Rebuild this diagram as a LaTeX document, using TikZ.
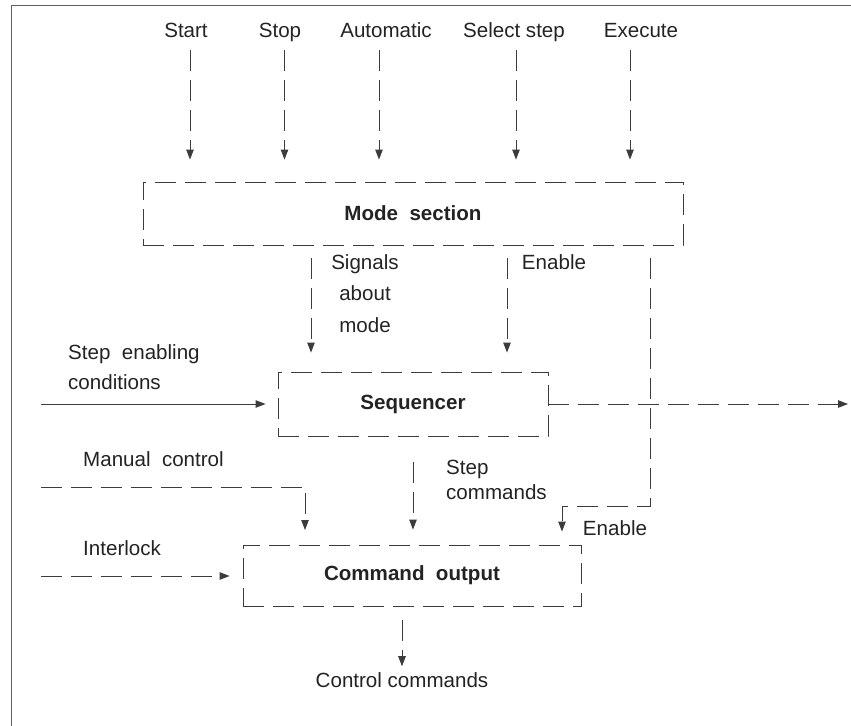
\documentclass[tikz,border=0pt]{standalone}
\usepackage{fontspec}
\setmainfont{Liberation Sans}
\usepackage{tikz}
\usetikzlibrary{arrows.meta, positioning, calc}
\definecolor{mydark}{RGB}{35,35,35}
\definecolor{myline}{RGB}{60,60,60}
\definecolor{myframe}{RGB}{95,95,95}
\tikzset{
  dashbox/.style={rectangle, draw=myline, dash pattern=on 0.42cm off 0.18cm,
    line width=0.5pt, font=\fontsize{11.7}{14}\selectfont\bfseries, inner sep=0pt},
  toplabel/.style={anchor=base},
  arrow/.style={-{Triangle[length=2mm, width=1.5mm]}, line width=0.5pt, color=myline},
  dasharrow/.style={arrow, dash pattern=on 0.42cm off 0.18cm},
  frame/.style={line width=1.1pt, color=myframe}
}

\begin{document}
\begin{tikzpicture}[font=\fontsize{11.7}{14}\selectfont, text=mydark]
  \useasboundingbox (0,0) rectangle (17.02,-14.52);
  \draw[frame] (0.23,-14.52) -- (0.23,-0.11) -- (17.02,-0.11);

  % Blocks
  \node[dashbox, minimum width=10.8cm, minimum height=1.26cm] (mode) at (8.26,-4.27) {Mode~ section};
  \node[dashbox, minimum width=5.4cm, minimum height=1.28cm] (seq) at (8.26,-8.08) {Sequencer};
  \node[dashbox, minimum width=6.76cm, minimum height=1.22cm] (cmd) at (8.24,-11.51) {Command~ output};

  % Operator inputs
  \node[toplabel] (start) at (3.72,-0.74) {Start};
  \node[toplabel] (stop) at (5.6,-0.74) {Stop};
  \node[toplabel] (auto) at (7.72,-0.74) {Automatic};
  \node[toplabel] (select) at (10.28,-0.74) {Select step};
  \node[toplabel] (exec) at (12.82,-0.74) {Execute};
  \coordinate (astart) at (3.8,-1.0);
  \coordinate (astop) at (5.69,-1.0);
  \coordinate (aauto) at (7.58,-1.0);
  \coordinate (aselect) at (10.32,-1.0);
  \coordinate (aexec) at (12.6,-1.0);
  \draw[dasharrow, shorten >=0.44cm] (astart) -- (astart |- mode.north);
  \draw[dasharrow, shorten >=0.44cm] (astop) -- (astop |- mode.north);
  \draw[dasharrow, shorten >=0.44cm] (aauto) -- (aauto |- mode.north);
  \draw[dasharrow, shorten >=0.44cm] (aselect) -- (aselect |- mode.north);
  \draw[dasharrow, shorten >=0.44cm] (aexec) -- (aexec |- mode.north);

  % Mode section to sequencer
  \coordinate (sig) at (6.22,-5.16);
  \draw[dasharrow, shorten >=0.38cm] (sig) -- (sig |- seq.north);
  \node[align=center, font=\fontsize{11.7}{18}\selectfont] (sigtxt) at (7.3,-5.87) {Signals\\about\\mode};
  \coordinate (en) at (10.14,-5.16);
  \draw[dasharrow, shorten >=0.38cm] (en) -- (en |- seq.north);
  \node (entxt) at (11.08,-5.24) {Enable};

  % Enable to command output
  \coordinate (enlong) at (13.0,-5.16);
  \coordinate (enturn) at (11.24,-10.12);
  \draw[dasharrow, shorten >=0.26cm] (enlong) |- (enturn) -- (enturn |- cmd.north);
  \node (enbot) at (12.3,-10.56) {Enable};

  % Sequencer in and out
  \node[align=left, anchor=west, font=\fontsize{11.7}{17}\selectfont] (cond) at (1.24,-7.34) {Step~ enabling\\conditions};
  \coordinate (condin) at (0.82,-8.08);
  \draw[arrow, shorten >=0.24cm] (condin) -- (seq.west);
  \coordinate (seqout) at (16.96,-8.08);
  \draw[dasharrow] (seq.east) -- (seqout);

  % Command output inputs
  \node[anchor=west] (manual) at (1.54,-9.18) {Manual~ control};
  \coordinate (manin) at (0.82,-9.74);
  \coordinate (manend) at (6.1,-10.6);
  \draw[dasharrow] (manin) -| (manend);
  \draw[dasharrow, shorten <=0.52cm, shorten >=0.3cm] (seq.south) -- (seq.south |- cmd.north);
  \node[align=left, anchor=west, font=\fontsize{11.7}{14.2}\selectfont] (stepcmd) at (8.8,-9.59) {Step\\commands};
  \node[anchor=west] (inter) at (1.54,-10.96) {Interlock};
  \coordinate (interin) at (0.82,-11.52);
  \draw[dasharrow, shorten >=0.26cm] (interin) -- (interin -| cmd.west);

  % Output
  \node (ctrl) at (8.04,-13.6) {Control commands};
  \draw[dasharrow, shorten <=0.28cm] (ctrl.north |- cmd.south) -- (ctrl.north);
\end{tikzpicture}
\end{document}
